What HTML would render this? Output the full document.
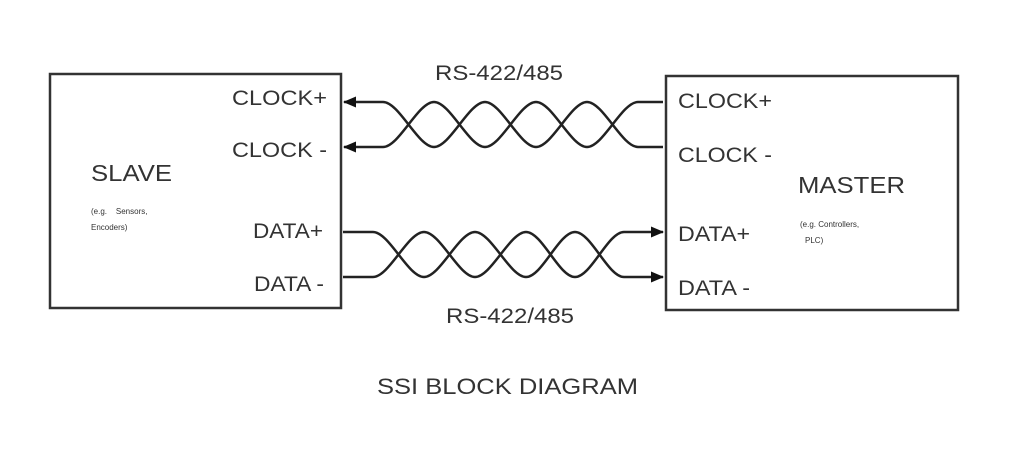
<!DOCTYPE html>
<html><head><style>
body{margin:0;background:#fff;}
svg{display:block}
text{font-family:"Liberation Sans",Arial,sans-serif;fill:#333}
</style></head><body>
<svg width="1024" height="471" viewBox="0 0 1024 471">
<defs>
<marker id="ah" markerWidth="13" markerHeight="11" refX="12" refY="5.5" orient="auto" markerUnits="userSpaceOnUse">
<path d="M0,0 L13,5.5 L0,11 Z" fill="#111"/></marker>
</defs>
<rect x="50" y="74" width="291" height="234" fill="none" stroke="#333" stroke-width="2.5"/>
<rect x="666" y="76" width="292" height="234" fill="none" stroke="#333" stroke-width="2.5"/>
<g fill="none" stroke="#222" stroke-width="2.5">
<path d="M663,102 L638,102 C622,102 603,147 587,147 C571,147 552,102 536,102 C520,102 501,147 485,147 C469,147 450,102 434,102 C418,102 399,147 383,147 L344,147" marker-end="url(#ah)"/>
<path d="M663,147 L638,147 C622,147 603,102 587,102 C571,102 552,147 536,147 C520,147 501,102 485,102 C469,102 450,147 434,147 C418,147 399,102 383,102 L344,102" marker-end="url(#ah)"/>
<path d="M343,232 L373,232 C389,232 408,277 424,277 C440,277 459,232 475,232 C491,232 510,277 526,277 C542,277 559,232 575,232 C591,232 608,277 624,277 L663,277" marker-end="url(#ah)"/>
<path d="M343,277 L373,277 C389,277 408,232 424,232 C440,232 459,277 475,277 C491,277 510,232 526,232 C542,232 559,277 575,277 C591,277 608,232 624,232 L663,232" marker-end="url(#ah)"/>
</g>
<text x="435" y="80" font-size="21" textLength="128" lengthAdjust="spacingAndGlyphs">RS-422/485</text>
<text x="446" y="323" font-size="21" textLength="128" lengthAdjust="spacingAndGlyphs">RS-422/485</text>
<text x="232" y="105" font-size="21" textLength="95" lengthAdjust="spacingAndGlyphs">CLOCK+</text>
<text x="232" y="157" font-size="21" textLength="95" lengthAdjust="spacingAndGlyphs">CLOCK -</text>
<text x="253" y="238" font-size="21" textLength="70" lengthAdjust="spacingAndGlyphs">DATA+</text>
<text x="254" y="291" font-size="21" textLength="70" lengthAdjust="spacingAndGlyphs">DATA -</text>
<text x="91" y="181" font-size="23" textLength="81" lengthAdjust="spacingAndGlyphs">SLAVE</text>
<text x="91" y="214" font-size="8">(e.g.&#160;&#160;&#160;&#160;Sensors,</text>
<text x="91" y="230" font-size="8">Encoders)</text>
<text x="678" y="108" font-size="21" textLength="94" lengthAdjust="spacingAndGlyphs">CLOCK+</text>
<text x="678" y="162" font-size="21" textLength="94" lengthAdjust="spacingAndGlyphs">CLOCK -</text>
<text x="678" y="241" font-size="21" textLength="72" lengthAdjust="spacingAndGlyphs">DATA+</text>
<text x="678" y="295" font-size="21" textLength="72" lengthAdjust="spacingAndGlyphs">DATA -</text>
<text x="798" y="193" font-size="23" textLength="107" lengthAdjust="spacingAndGlyphs">MASTER</text>
<text x="800" y="227" font-size="8">(e.g. Controllers,</text>
<text x="805" y="243" font-size="8">PLC)</text>
<text x="377" y="394" font-size="22" textLength="261" lengthAdjust="spacingAndGlyphs">SSI BLOCK DIAGRAM</text>
</svg>
</body></html>
